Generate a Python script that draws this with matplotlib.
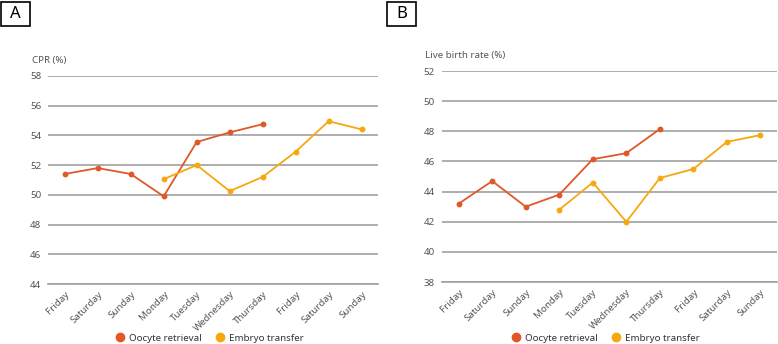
import matplotlib.pyplot as plt
from matplotlib.patches import Rectangle

plt.rcParams['font.family'] = ['Noto Sans', 'DejaVu Sans']

days = ['Friday', 'Saturday', 'Sunday', 'Monday', 'Tuesday', 'Wednesday',
        'Thursday', 'Friday', 'Saturday', 'Sunday']

# Panel A - CPR (%)
cpr_oocyte = [51.4, 51.8, 51.4, 49.9, 53.55, 54.2, 54.75]
cpr_embryo = [51.05, 52.0, 50.25, 51.2, 52.9, 54.95, 54.4]

# Panel B - live birth rate (%)
lbr_oocyte = [43.2, 44.7, 43.0, 43.8, 46.15, 46.55, 48.15]
lbr_embryo = [42.8, 44.6, 42.0, 44.9, 45.5, 47.3, 47.75]

red = '#E0582A'
yellow = '#F6A80F'
grid_c = '#A0A0A0'
txt_c = '#555555'

fig = plt.figure(figsize=(7.78, 3.44), dpi=100)

panels = [
    ([0.062, 0.1744, 0.424, 0.605], cpr_oocyte, cpr_embryo, (44, 58), 'CPR (%)', 'A', 0.0015, -0.26),
    ([0.568, 0.180, 0.431, 0.6136], lbr_oocyte, lbr_embryo, (38, 52), 'Live birth rate (%)', 'B', 0.4975, -0.265),
]

for rect, oo, em, ylim, ylab, letter, bx, ly in panels:
    ax = fig.add_axes(rect)
    ax.plot(range(0, 7), oo, color=red, marker='o', markersize=3.2, linewidth=1.3,
            label='Oocyte retrieval')
    ax.plot(range(3, 10), em, color=yellow, marker='o', markersize=3.2, linewidth=1.3,
            label='Embryo transfer')
    ax.set_xlim(-0.5, 9.5)
    ax.set_ylim(*ylim)
    ax.set_yticks(range(ylim[0], ylim[1] + 1, 2))
    ax.set_xticks(range(10))
    ax.set_xticklabels(days, rotation=45, ha='right', rotation_mode='anchor')
    ax.yaxis.grid(True, color=grid_c, linewidth=1.2)
    ax.set_axisbelow(True)
    for s in ['top', 'right', 'left']:
        ax.spines[s].set_visible(False)
    ax.spines['bottom'].set_color(grid_c)
    ax.spines['bottom'].set_linewidth(1.2)
    ax.tick_params(axis='both', length=0, labelsize=7, labelcolor=txt_c)
    ax.tick_params(axis='y', pad=5)
    ax.tick_params(axis='x', pad=4)
    ax.text(-0.05, 1.05, ylab, transform=ax.transAxes, fontsize=7,
            color=txt_c, ha='left', va='bottom')
    leg = ax.legend(loc='center', bbox_to_anchor=(0.49, ly), ncol=2,
                    frameon=False, fontsize=7, handlelength=0.8,
                    columnspacing=1.5, handletextpad=0.5, borderpad=0.2)
    for h in leg.legend_handles:
        h.set_linestyle('none')
        h.set_markersize(6)
    for t in leg.get_texts():
        t.set_color('#333333')
    fig.patches.append(Rectangle((bx, 0.925), 0.037, 0.07, transform=fig.transFigure,
                                 fill=False, edgecolor='black', linewidth=1.2))
    fig.text(bx + 0.0185, 0.958, letter, fontsize=12, ha='center', va='center')

fig.savefig('out.png', dpi=100)
